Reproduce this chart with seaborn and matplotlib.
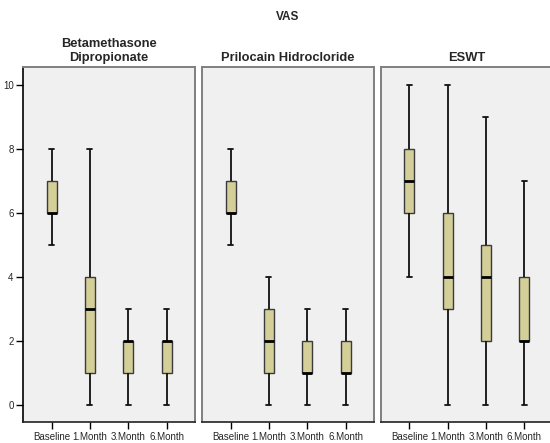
import numpy as np
import pandas as pd
import matplotlib
matplotlib.use("Agg")
import matplotlib.pyplot as plt
import seaborn as sns

times = ["Baseline", "1.Month", "3.Month", "6.Month"]
groups = ["Betamethasone\nDipropionate", "Prilocain Hidrocloride", "ESWT"]

# five-number summaries (min, q1, median, q3, max)
beta_min = [5, 0, 0, 0]
beta_q1 = [6, 1, 1, 1]
beta_med = [6, 3, 2, 2]
beta_q3 = [7, 4, 2, 2]
beta_max = [8, 8, 3, 3]

pril_min = [5, 0, 0, 0]
pril_q1 = [6, 1, 1, 1]
pril_med = [6, 2, 1, 1]
pril_q3 = [7, 3, 2, 2]
pril_max = [8, 4, 3, 3]

eswt_min = [4, 0, 0, 0]
eswt_q1 = [6, 3, 2, 2]
eswt_med = [7, 4, 4, 2]
eswt_q3 = [8, 6, 5, 4]
eswt_max = [10, 10, 9, 7]

summaries = {
    groups[0]: [beta_min, beta_q1, beta_med, beta_q3, beta_max],
    groups[1]: [pril_min, pril_q1, pril_med, pril_q3, pril_max],
    groups[2]: [eswt_min, eswt_q1, eswt_med, eswt_q3, eswt_max],
}

rows = []
for g, stats in summaries.items():
    for i, t in enumerate(times):
        for s in stats:
            rows.append({"group": g, "time": t, "VAS": s[i]})
df = pd.DataFrame(rows)

sns.set_style("white")
plt.rcParams["font.family"] = ["Liberation Sans", "DejaVu Sans"]

fig = plt.figure(figsize=(5.5, 4.43), dpi=100)
lefts = [0.0424, 0.3678, 0.6927]
box_color = "#d4cf99"
border = "#7f7f7f"

for k, g in enumerate(groups):
    ax = fig.add_axes([lefts[k], 0.0467, 0.312, 0.801])
    ax.set_facecolor("#f0f0f0")
    sns.boxplot(data=df[df.group == g], x="time", y="VAS", order=times,
                width=0.26, whis=np.inf, color=box_color, saturation=1, ax=ax,
                boxprops=dict(edgecolor="#3a3a3a", linewidth=1.0),
                medianprops=dict(color="black", linewidth=2.0),
                whiskerprops=dict(color="#111111", linewidth=1.3),
                capprops=dict(color="#111111", linewidth=1.3))
    ax.set_xlim(-0.74, 3.74)
    ax.set_ylim(-0.55, 10.54)
    ax.set_xlabel("")
    ax.set_ylabel("")
    ax.set_title(g, fontsize=9.3, fontweight="bold", pad=5)
    ax.tick_params(axis="x", length=5, width=1, color="black", labelsize=7, pad=2,
                   bottom=True)
    for side in ["top", "right", "left"]:
        ax.spines[side].set_color(border)
        ax.spines[side].set_linewidth(1.4)
    ax.spines["bottom"].set_color("#222222")
    ax.spines["bottom"].set_linewidth(1.2)
    if k == 0:
        ax.set_yticks([0, 2, 4, 6, 8, 10])
        ax.tick_params(axis="y", length=5, width=1, color="black", labelsize=7,
                       pad=2, left=True)
        ax.spines["left"].set_color("black")
        ax.spines["left"].set_linewidth(1.2)
    else:
        ax.set_yticks([])

fig.text(0.523, 0.962, "VAS", ha="center", va="center", fontsize=8.5,
         fontweight="bold")

fig.savefig("out.png", dpi=100)
